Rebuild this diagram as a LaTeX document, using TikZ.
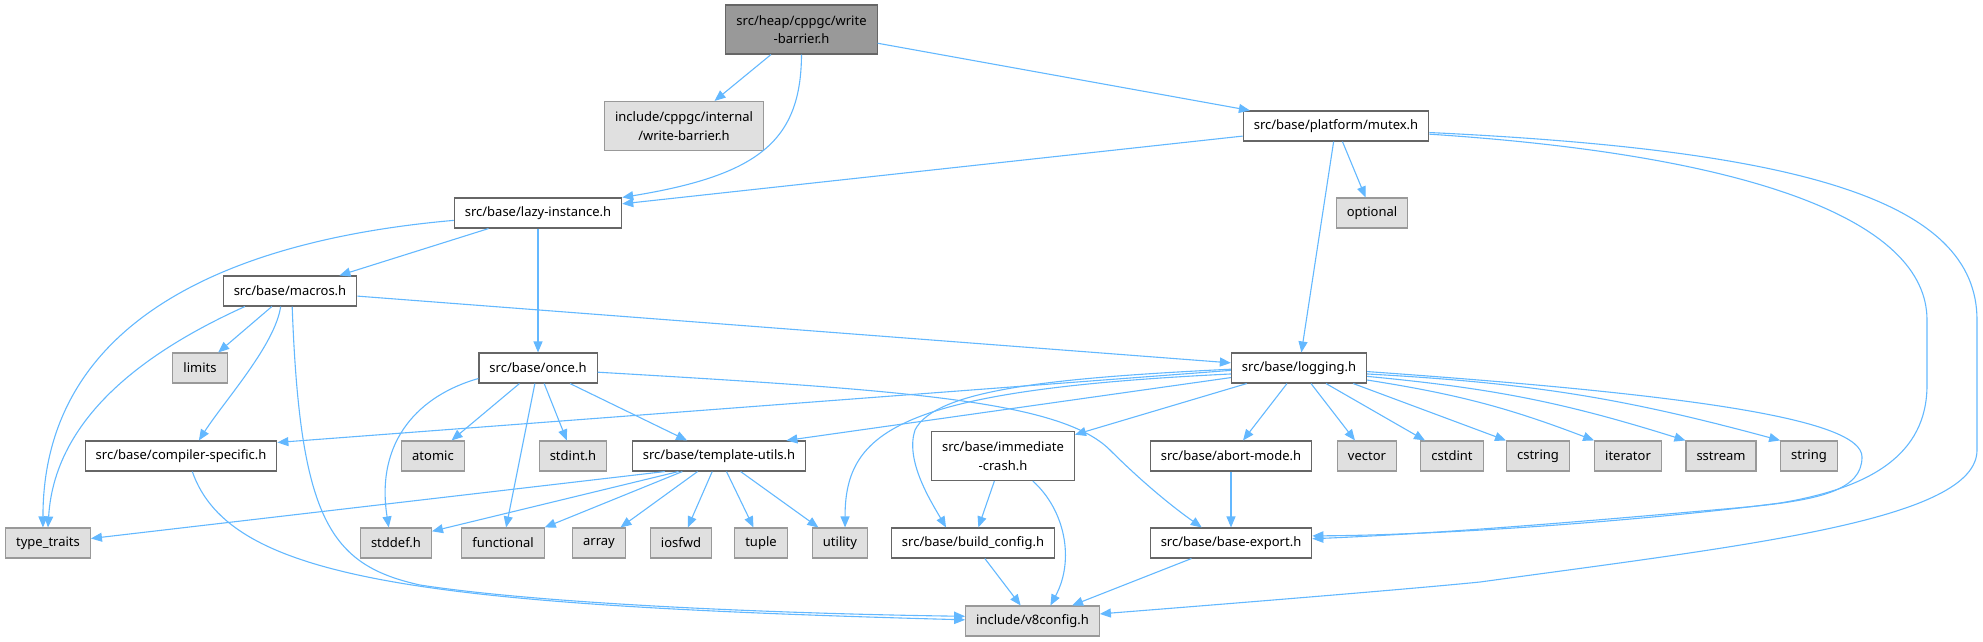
\documentclass[tikz,border=0pt]{standalone}
\usepackage{fontspec}
\setmainfont{Noto Sans}
\usetikzlibrary{arrows.meta}
\definecolor{edgeblue}{HTML}{63B8FF}
\definecolor{boxline}{HTML}{666666}
\definecolor{extline}{HTML}{999999}
\definecolor{extfill}{HTML}{E0E0E0}
\definecolor{rootfill}{HTML}{999999}

\begin{document}
\begin{tikzpicture}[
        x=1pt, y=-1pt,
        every node/.style={rectangle, draw=boxline, fill=white, line width=1.1pt, minimum height=30pt, inner xsep=10.5pt, inner ysep=0pt, align=center, font=\fontsize{13pt}{18.7pt}\selectfont},
        ext/.style={draw=extline, fill=extfill},
        root/.style={fill=rootfill, minimum height=49pt},
        tall/.style={minimum height=49pt},
        dep/.style={draw=edgeblue, line width=1.1pt, -{Triangle[length=11pt, width=9pt]}}
    ]
    \useasboundingbox (0,0) rectangle (1983,641);

    \node (Root) [root] at (801.5,29.5) {src/heap/cppgc/write\\-barrier.h};
    \node (WriteBarrier) [ext, tall] at (684,126) {include/cppgc/internal\\/write-barrier.h};
    \node (LazyInstance) at (538,213) {src/base/lazy-instance.h};
    \node (Mutex) at (1336,126) {src/base/platform/mutex.h};
    \node (Optional) [ext] at (1372,213) {optional};
    \node (Macros) at (290,291) {src/base/macros.h};
    \node (Limits) [ext] at (200,368) {limits};
    \node (Once) at (538,368) {src/base/once.h};
    \node (Logging) at (1299,368) {src/base/logging.h};
    \node (CompilerSpecific) at (181,456) {src/base/compiler-specific.h};
    \node (Atomic) [ext] at (433,456) {atomic};
    \node (Stdint) [ext] at (573,456) {stdint.h};
    \node (TemplateUtils) at (719,456) {src/base/template-utils.h};
    \node (ImmediateCrash) [tall] at (1003,456) {src/base/immediate\\-crash.h};
    \node (AbortMode) at (1231,456) {src/base/abort-mode.h};
    \node (Vector) [ext] at (1367,456) {vector};
    \node (Cstdint) [ext] at (1452,456) {cstdint};
    \node (Cstring) [ext] at (1538,456) {cstring};
    \node (Iterator) [ext] at (1628,456) {iterator};
    \node (Sstream) [ext] at (1721,456) {sstream};
    \node (String) [ext] at (1809,456) {string};
    \node (TypeTraits) [ext] at (48,543) {type\_traits};
    \node (Stddef) [ext] at (396,543) {stddef.h};
    \node (Functional) [ext] at (503,543) {functional};
    \node (Array) [ext] at (599,543) {array};
    \node (Iosfwd) [ext] at (681,543) {iosfwd};
    \node (Tuple) [ext] at (761,543) {tuple};
    \node (Utility) [ext] at (840,543) {utility};
    \node (BuildConfig) at (973,543) {src/base/build\_config.h};
    \node (BaseExport) at (1231,543) {src/base/base-export.h};
    \node (V8Config) [ext] at (1032.5,621) {include/v8config.h};

    \draw[dep] (Root) -- (WriteBarrier);
    \draw[dep] (Root.south) .. controls (801,140) and (760,175) .. (LazyInstance.north east);
    \draw[dep] (Root) -- (Mutex);
    \draw[dep] (Mutex) -- (LazyInstance);
    \draw[dep] (Mutex) -- (Optional);
    \draw[dep] (Mutex) -- (Logging);
    \draw[dep] (Mutex.-5) .. controls (1750,155) and (1927,220) .. (1927,320) -- (1927,385)
        .. controls (1927,455) and (1870,488) .. (1780,503) .. controls (1650,520) and (1450,535) .. (BaseExport.5);
    \draw[dep] (Mutex.-4) .. controls (1800,150) and (1977,200) .. (1977,320) -- (1977,450)
        .. controls (1977,520) and (1750,545) .. (1480,582) .. controls (1400,590) and (1200,606) .. (V8Config.6);
    \draw[dep] (LazyInstance.185) .. controls (230,240) and (43,320) .. (TypeTraits.108);
    \draw[dep] (LazyInstance) -- (Macros);
    \draw[dep] (LazyInstance) -- (Once);
    \draw[dep] (Macros) -- (Limits);
    \draw[dep] (Macros.-161) .. controls (160,345) and (55,410) .. (TypeTraits.north);
    \draw[dep] (Macros.-121) .. controls (275,345) and (225,400) .. (CompilerSpecific.41);
    \draw[dep] (Macros.-82) .. controls (300,520) and (330,565) .. (420,585)
        .. controls (550,605) and (800,614) .. (V8Config.176);
    \draw[dep] (Macros) -- (Logging);
    \draw[dep] (Once.190) .. controls (420,395) and (375,440) .. (Stddef.115);
    \draw[dep] (Once) -- (Atomic);
    \draw[dep] (Once) -- (Functional);
    \draw[dep] (Once) -- (Stdint);
    \draw[dep] (Once) -- (TemplateUtils);
    \draw[dep] (Once.-4) .. controls (900,390) and (1060,400) .. (1110,450)
        .. controls (1140,480) and (1170,505) .. (BaseExport.152);
    \draw[dep] (CompilerSpecific.-54) .. controls (230,580) and (420,605) .. (V8Config.179);
    \draw[dep] (TemplateUtils.-164) -- (TypeTraits.6);
    \draw[dep] (TemplateUtils.-159) -- (Stddef.18);
    \draw[dep] (TemplateUtils.-157) -- (Functional.north east);
    \draw[dep] (TemplateUtils) -- (Array);
    \draw[dep] (TemplateUtils) -- (Iosfwd);
    \draw[dep] (TemplateUtils) -- (Tuple);
    \draw[dep] (TemplateUtils) -- (Utility);
    \draw[dep] (Logging.182) -- (CompilerSpecific.8);
    \draw[dep] (Logging.188) -- (TemplateUtils.13);
    \draw[dep] (Logging.185) .. controls (900,390) and (845,430) .. (Utility.72);
    \draw[dep] (Logging.181) .. controls (1050,378) and (935,390) .. (915,430)
        .. controls (905,460) and (930,500) .. (BuildConfig.150);
    \draw[dep] (Logging) -- (ImmediateCrash);
    \draw[dep] (Logging) -- (AbortMode);
    \draw[dep] (Logging) -- (Vector);
    \draw[dep] (Logging) -- (Cstdint);
    \draw[dep] (Logging.-16) -- (Cstring.north west);
    \draw[dep] (Logging.-10) to[bend left=6] (Iterator.north west);
    \draw[dep] (Logging.-7) to[bend left=6] (Sstream.north west);
    \draw[dep] (Logging.-5) to[bend left=6] (String.north west);
    \draw[dep] (Logging.-3) .. controls (1700,395) and (1862,420) .. (1862,457)
        .. controls (1862,490) and (1820,500) .. (1747,507) .. controls (1600,520) and (1450,533) .. (BaseExport.3);
    \draw[dep] (ImmediateCrash) -- (BuildConfig);
    \draw[dep] (ImmediateCrash.-40) .. controls (1065,510) and (1075,560) .. (V8Config.41);
    \draw[dep] (BuildConfig) -- (V8Config);
    \draw[dep] (AbortMode) -- (BaseExport);
    \draw[dep] (BaseExport) -- (V8Config);
\end{tikzpicture}
\end{document}
